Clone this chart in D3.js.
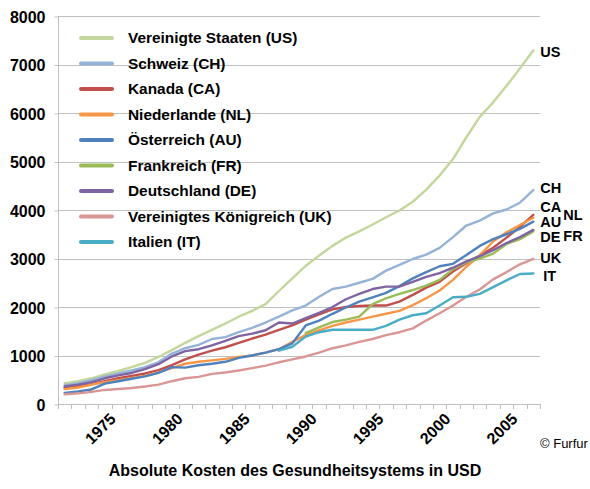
<!DOCTYPE html>
<html>
<head>
<meta charset="utf-8">
<script src="https://cdn.jsdelivr.net/npm/d3@7"></script>
<style>
    body { margin: 0; background: #fff; }
    text { font-family: Arial, "Liberation Sans", sans-serif; fill: #000; }
    .grid line { stroke: #c0c0c0; stroke-width: 1; }
    .axis path, .axis line { stroke: #bfbfbf; }
    .series { fill: none; stroke-width: 2.4; stroke-linejoin: round; stroke-linecap: round; }
</style>
</head>
<body>
<div id="graph"></div>
<script>

// Data (USD per head), 1972 - 2007
var years = d3.range (1972, 2008);

var usData = [430, 470, 530, 610, 680, 760, 850, 970, 1110, 1260, 1400, 1530, 1660, 1800, 1920, 2060, 2330, 2590,
              2850, 3060, 3260, 3430, 3560, 3700, 3850, 3990, 4170, 4420, 4710, 5050, 5500, 5920, 6220, 6560, 6920, 7290];
var chData = [390, 430, 490, 570, 630, 690, 760, 860, 1040, 1150, 1220, 1340, 1380, 1480, 1570, 1680, 1800, 1930,
              2030, 2210, 2370, 2420, 2500, 2580, 2750, 2870, 2990, 3080, 3220, 3440, 3680, 3780, 3930, 4010, 4150, 4410];
var caData = [330, 370, 410, 470, 530, 580, 630, 700, 800, 920, 1020, 1100, 1170, 1260, 1350, 1430, 1530, 1620,
              1740, 1850, 1950, 2000, 2020, 2030, 2030, 2110, 2250, 2400, 2520, 2730, 2900, 3060, 3220, 3430, 3650, 3900];
var nlData = [310, 340, 400, 450, 490, 530, 580, 650, 740, 830, 870, 900, 930, 970, 1000, 1060, 1130, 1280,
              1420, 1520, 1610, 1680, 1740, 1800, 1860, 1920, 2040, 2180, 2340, 2560, 2830, 3070, 3350, 3540, 3690, 3840];
var auData = [230, 260, 300, 420, 470, 520, 570, 640, 760, 750, 800, 830, 870, 950, 1000, 1060, 1130, 1250,
              1620, 1720, 1860, 1990, 2110, 2200, 2290, 2430, 2590, 2720, 2840, 2890, 3070, 3260, 3400, 3500, 3610, 3760];
var frData = [null, null, null, null, null, null, null, null, null, null, null, null, null, null, null, null, null, null,
              1460, 1580, 1690, 1740, 1800, 2060, 2180, 2270, 2350, 2440, 2560, 2780, 2920, 3000, 3100, 3300, 3400, 3560];
var deData = [360, 400, 450, 530, 590, 640, 720, 820, 980, 1090, 1130, 1210, 1300, 1400, 1450, 1520, 1680, 1660,
              1770, 1880, 2000, 2160, 2270, 2370, 2420, 2420, 2520, 2620, 2700, 2810, 2940, 3050, 3170, 3320, 3440, 3590];
var ukData = [200, 220, 250, 290, 310, 330, 360, 400, 470, 530, 560, 620, 650, 690, 740, 790, 860, 920,
              980, 1060, 1150, 1210, 1280, 1340, 1420, 1480, 1560, 1720, 1870, 2030, 2210, 2360, 2570, 2720, 2880, 2990];
var itData = [null, null, null, null, null, null, null, null, null, null, null, null, null, null, null, null, 1100, 1180,
              1390, 1480, 1530, 1530, 1530, 1530, 1610, 1740, 1830, 1870, 2030, 2200, 2210, 2270, 2410, 2550, 2680, 2690];

var seriesNames  = ['Vereinigte Staaten (US)', 'Schweiz (CH)', 'Kanada (CA)', 'Niederlande (NL)', 'Österreich (AU)',
                    'Frankreich (FR)', 'Deutschland (DE)', 'Vereinigtes Königreich (UK)', 'Italien (IT)'];
var seriesCodes  = ['US', 'CH', 'CA', 'NL', 'AU', 'FR', 'DE', 'UK', 'IT'];
var seriesValues = [usData, chData, caData, nlData, auData, frData, deData, ukData, itData];
var seriesColors = ['#c3d69b', '#95b3d7', '#c0504d', '#f79646', '#4f81bd', '#9bbb59', '#8064a2', '#d99694', '#4bacc6'];

var yTicks     = [0, 1000, 2000, 3000, 4000, 5000, 6000, 7000, 8000];
var xLabelYears = [1975, 1980, 1985, 1990, 1995, 2000, 2005];

var titleText = 'Absolute Kosten des Gesundheitsystems in USD';
var creditText = '\u00a9 Furfur';


//
// Layout
//
var width  = 590;
var height = 489;
var plot   = { left: 58, right: 540, top: 16, bottom: 404 };

var svg = d3.select ('div#graph')
            .append ('svg')
            .attr ('width', width)
            .attr ('height', height);

var xScale = d3.scalePoint ()
               .domain (years)
               .range ([plot.left, plot.right])
               .padding (0.5);

var yScale = d3.scaleLinear ()
               .domain ([0, 8000])
               .range ([plot.bottom, plot.top]);

// gridlines
svg.append ('g')
   .attr ('class', 'grid')
   .selectAll ('line')
   .data (yTicks.slice (1))
   .enter ()
   .append ('line')
   .attr ('x1', plot.left)
   .attr ('x2', plot.right)
   .attr ('y1', d => Math.round (yScale (d)) + 0.5)
   .attr ('y2', d => Math.round (yScale (d)) + 0.5);

// y axis
var yAxis = d3.axisLeft (yScale)
              .tickValues (yTicks)
              .tickSize (4)
              .tickPadding (9)
              .tickFormat (d3.format ('d'));

var yAxisG = svg.append ('g')
                .attr ('class', 'y axis')
                .attr ('transform', 'translate(' + (plot.left + 0.5) + ',0.5)')
                .call (yAxis);

yAxisG.select ('.domain').attr ('d', 'M0,' + (plot.top - 0.5) + 'V' + (plot.bottom - 0.5));
yAxisG.selectAll ('text')
      .style ('font-size', '16px')
      .style ('font-weight', 'bold')
      .attr ('dy', '0.35em');

// x axis: one tick between each pair of categories
var step = xScale.step ();
var xBoundaries = d3.range (years.length + 1).map (i => plot.left + i * step);

var xAxisG = svg.append ('g')
                .attr ('class', 'x axis');

xAxisG.append ('line')
      .attr ('x1', plot.left)
      .attr ('x2', plot.right)
      .attr ('y1', plot.bottom + 0.5)
      .attr ('y2', plot.bottom + 0.5)
      .attr ('stroke', '#bfbfbf');

xAxisG.selectAll ('.xtick')
      .data (xBoundaries)
      .enter ()
      .append ('line')
      .attr ('class', 'xtick')
      .attr ('x1', d => Math.round (d) + 0.5)
      .attr ('x2', d => Math.round (d) + 0.5)
      .attr ('y1', plot.bottom)
      .attr ('y2', plot.bottom + 5)
      .attr ('stroke', '#bfbfbf');

xAxisG.selectAll ('.xlabel')
      .data (xLabelYears)
      .enter ()
      .append ('text')
      .attr ('class', 'xlabel')
      .attr ('transform', d => 'translate(' + (xScale (d) + 12) + ',' + (plot.bottom + 16) + ') rotate(-45)')
      .style ('text-anchor', 'end')
      .style ('font-size', '16px')
      .style ('font-weight', 'bold')
      .text (d => d);

// series lines
var line = d3.line ()
             .defined (d => d.v !== null)
             .x (d => xScale (d.t))
             .y (d => yScale (d.v));

seriesValues.forEach (function (vals, i)
{
    var pts = vals.map ((v, j) => ({ t: years[j], v: v }));

    svg.append ('path')
       .datum (pts)
       .attr ('class', 'series')
       .attr ('stroke', seriesColors[i])
       .attr ('d', line);
});

// labels at the end of each line (CA / AU / DE are stacked tightly, as in the original)
var endOffsets = {
    US: [7, 1],  CH: [7, -2], CA: [7, -8], NL: [30, -3], AU: [7, 0],
    FR: [30, 5], DE: [7, 7],  UK: [7, -1], IT: [10, 2]
};

seriesCodes.forEach (function (code, i)
{
    var vals = seriesValues[i];
    var last = vals[vals.length - 1];

    svg.append ('text')
       .attr ('x', xScale (years[years.length - 1]) + endOffsets[code][0])
       .attr ('y', yScale (last) + endOffsets[code][1])
       .attr ('dy', '0.35em')
       .style ('font-size', '14.5px')
       .style ('font-weight', 'bold')
       .text (code);
});

// legend
var legend = svg.append ('g')
                .attr ('class', 'legend');

seriesNames.forEach (function (name, i)
{
    var ly = 38 + i * 25.5;

    legend.append ('line')
          .attr ('x1', 81)
          .attr ('x2', 112)
          .attr ('y1', ly)
          .attr ('y2', ly)
          .attr ('stroke', seriesColors[i])
          .attr ('stroke-width', 4)
          .attr ('stroke-linecap', 'round');

    legend.append ('text')
          .attr ('x', 128)
          .attr ('y', ly)
          .attr ('dy', '0.35em')
          .style ('font-size', '15.4px')
          .style ('font-weight', 'bold')
          .text (name);
});

// title and credit
svg.append ('text')
   .attr ('x', 295)
   .attr ('y', 476)
   .style ('text-anchor', 'middle')
   .style ('font-size', '16px')
   .style ('font-weight', 'bold')
   .text (titleText);

svg.append ('text')
   .attr ('x', 540)
   .attr ('y', 448)
   .style ('font-size', '13px')
   .text (creditText);

</script>
</body>
</html>
